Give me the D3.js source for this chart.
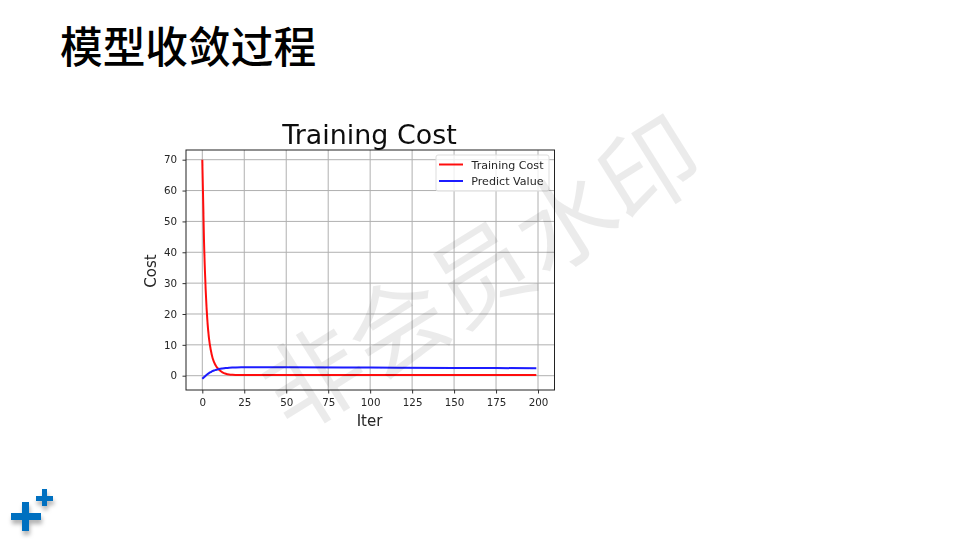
<!DOCTYPE html>
<html>
<head>
<meta charset="utf-8">
<script src="https://cdn.jsdelivr.net/npm/d3@7"></script>
<style>
  html, body { margin: 0; padding: 0; background: #fff; }
  svg { display: block; }
  text { font-family: "DejaVu Sans", sans-serif; fill: #262626; }
</style>
</head>
<body>
<svg id="chart" width="960" height="540"></svg>
<script>
// values
const iters = [0, 1, 2, 3, 4, 5, 6, 7, 8, 9, 10, 12, 14, 16, 18, 20, 25, 30, 50, 100, 150, 199];
const training_cost = [70, 44, 28, 18, 12, 8.5, 6, 4.4, 3.3, 2.5, 1.9, 1.1, 0.65, 0.4, 0.3, 0.25, 0.2, 0.2, 0.2, 0.2, 0.2, 0.2];
const predict_value = [-1, -0.5, 0, 0.45, 0.85, 1.15, 1.45, 1.7, 1.85, 2, 2.15, 2.35, 2.5, 2.6, 2.65, 2.68, 2.72, 2.73, 2.72, 2.62, 2.52, 2.42];
const x_ticks = [0, 25, 50, 75, 100, 125, 150, 175, 200];
const y_ticks = [0, 10, 20, 30, 40, 50, 60, 70];

const svg = d3.select("#chart");
const frame = {left: 186, right: 554.5, top: 150, bottom: 390};

const x = d3.scaleLinear().domain([0, 200]).range([202.3, 538]);
const y = d3.scaleLinear().domain([0, 70]).range([375.7, 159.7]);

const defs = svg.append("defs");
//  the plot in the reference is a slightly soft pasted image
defs.append("filter").attr("id", "pasted")
    .append("feGaussianBlur").attr("stdDeviation", 0.4);
defs.append("filter").attr("id", "soft").attr("x", "-30%").attr("y", "-30%").attr("width", "170%").attr("height", "170%")
    .append("feDropShadow").attr("dx", 1).attr("dy", 4).attr("stdDeviation", 2).attr("flood-color", "#000").attr("flood-opacity", 0.3);

//  slide title
svg.append("text")
   .attr("x", 60).attr("y", 63)
   .style("font-family", '"Noto Sans CJK SC"')
   .style("font-weight", 500)
   .style("font-size", "42.7px")
   .style("fill", "#000")
   .text("模型收敛过程");

const plot = svg.append("g").attr("filter", "url(#pasted)");

//  grid
plot.append("g").selectAll("line").data(x_ticks).join("line")
   .attr("x1", d => x(d)).attr("x2", d => x(d))
   .attr("y1", frame.top).attr("y2", frame.bottom)
   .attr("stroke", "#b0b0b0").attr("stroke-width", 1);
plot.append("g").selectAll("line").data(y_ticks).join("line")
   .attr("x1", frame.left).attr("x2", frame.right)
   .attr("y1", d => y(d)).attr("y2", d => y(d))
   .attr("stroke", "#b0b0b0").attr("stroke-width", 1);

//  curves
const line_for = values => d3.line()
  .x((d, i) => x(iters[i]))
  .y((d, i) => y(values[i]))
  .curve(d3.curveMonotoneX)(values);

plot.append("path").attr("d", line_for(training_cost))
   .attr("fill", "none").attr("stroke", "#ff1010").attr("stroke-width", 2);
plot.append("path").attr("d", line_for(predict_value))
   .attr("fill", "none").attr("stroke", "#1a1aff").attr("stroke-width", 2);

//  frame
plot.append("rect")
   .attr("x", frame.left).attr("y", frame.top)
   .attr("width", frame.right - frame.left).attr("height", frame.bottom - frame.top)
   .attr("fill", "none").attr("stroke", "#222").attr("stroke-width", 1);

//  axes
const xAxis = plot.append("g")
  .attr("transform", `translate(0,${frame.bottom})`)
  .call(d3.axisBottom(x).tickValues(x_ticks).tickSize(3.5).tickPadding(5.5));
const yAxis = plot.append("g")
  .attr("transform", `translate(${frame.left},0)`)
  .call(d3.axisLeft(y).tickValues(y_ticks).tickSize(3.5).tickPadding(5.5));
[xAxis, yAxis].forEach(g => {
  g.select(".domain").remove();
  g.selectAll("line").attr("stroke", "#333");
  g.selectAll("text").style("font-size", "10.3px").style("font-family", '"DejaVu Sans"');
});

//  axis labels and title
plot.append("text").attr("x", 369.5).attr("y", 144).attr("text-anchor", "middle")
   .style("font-size", "26.9px").style("fill", "#111").text("Training Cost");
plot.append("text").attr("x", 369.5).attr("y", 426).attr("text-anchor", "middle")
   .style("font-size", "15px").text("Iter");
plot.append("text").attr("transform", "translate(156,271) rotate(-90)").attr("text-anchor", "middle")
   .style("font-size", "15px").text("Cost");

//  legend
const legend = plot.append("g");
legend.append("rect")
   .attr("x", 436).attr("y", 155).attr("width", 113).attr("height", 36).attr("rx", 2)
   .attr("fill", "#fff").attr("fill-opacity", 0.8).attr("stroke", "#ddd").attr("stroke-width", 1);
const legend_names = ["Training Cost", "Predict Value"];
const legend_colors = ["#ff1010", "#1a1aff"];
legend_names.forEach((name, i) => {
  const ly = 164.5 + i * 16.5;
  legend.append("line").attr("x1", 439).attr("x2", 463).attr("y1", ly).attr("y2", ly)
     .attr("stroke", legend_colors[i]).attr("stroke-width", 2);
  legend.append("text").attr("x", 543.5).attr("y", ly + 4).attr("text-anchor", "end")
     .style("font-size", "11.1px").text(name);
});

//  watermark
svg.append("text")
   .attr("transform", "translate(478,268) rotate(-32)")
   .attr("text-anchor", "middle").attr("dominant-baseline", "central")
   .style("font-family", '"Noto Sans CJK SC"')
   .style("font-weight", 400)
   .style("font-size", "99px")
   .style("fill", "#000").style("fill-opacity", 0.08)
   .text("非会员水印");

//  logo
const logo = svg.append("g").attr("filter", "url(#soft)").attr("fill", "#0070c0");
logo.append("rect").attr("x", 11).attr("y", 513).attr("width", 30).attr("height", 7);
logo.append("rect").attr("x", 22).attr("y", 502).attr("width", 7).attr("height", 29);
logo.append("rect").attr("x", 36).attr("y", 496).attr("width", 17).attr("height", 5);
logo.append("rect").attr("x", 42).attr("y", 489).attr("width", 5).attr("height", 17);
</script>
</body>
</html>
